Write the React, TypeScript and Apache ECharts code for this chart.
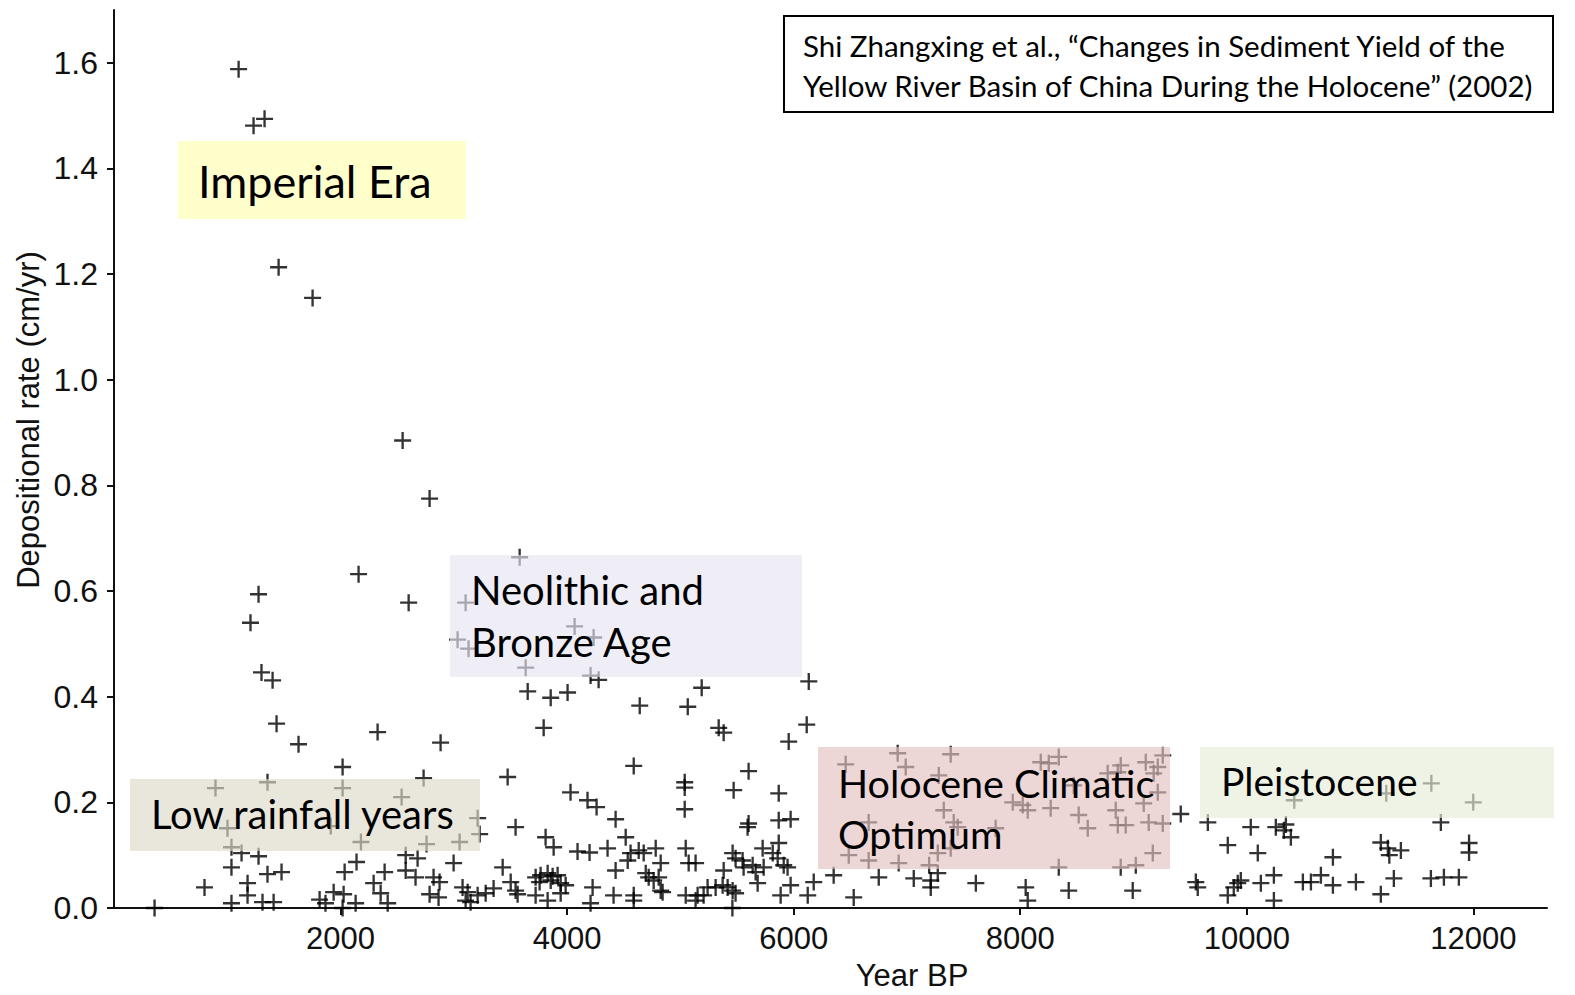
import React, { useEffect, useRef } from "react";
import * as echarts from "echarts";

// Tick labels
const xTicks = [2000, 4000, 6000, 8000, 10000, 12000];
const yTicks = [0, 0.2, 0.4, 0.6, 0.8, 1.0, 1.2, 1.4, 1.6];

// [Year BP, depositional rate cm/yr]
const imperialEraPoints = [
  [1100, 1.588], [1232, 1.481], [1329, 1.494], [1453, 1.213], [1753, 1.155],
  [2548, 0.885], [2786, 0.775], [2159, 0.632], [1276, 0.594], [2601, 0.578],
  [1205, 0.54], [1302, 0.446], [1400, 0.431], [1435, 0.349], [1629, 0.31],
  [2327, 0.333], [2883, 0.313],
];

const bronzeAgePoints = [
  [3033, 0.508], [3581, 0.664], [3104, 0.578], [4066, 0.533], [4234, 0.512],
  [3130, 0.491], [3634, 0.455], [4207, 0.44], [4278, 0.432], [3652, 0.41],
  [3855, 0.398], [4004, 0.408], [3793, 0.341], [4641, 0.383], [5065, 0.381],
  [5188, 0.417], [6133, 0.429], [6115, 0.347], [5956, 0.315], [5338, 0.341],
  [5382, 0.332],
];

const lowBandA = [
  [2018, 0.267], [896, 0.227], [1355, 0.238], [2018, 0.227], [2539, 0.21],
  [1002, 0.151], [1914, 0.155], [2180, 0.125], [1037, 0.115], [1126, 0.104],
  [1276, 0.098], [1037, 0.077], [1355, 0.064], [1479, 0.068], [799, 0.039],
  [1179, 0.047], [1179, 0.024], [1037, 0.009], [1311, 0.011], [1409, 0.011],
  [358, 0.0], [2036, 0.068], [2141, 0.087], [2389, 0.068], [2292, 0.047],
  [2575, 0.1], [2575, 0.071], [1815, 0.016], [1939, 0.03], [2027, 0.026],
  [2133, 0.009], [2354, 0.028], [2416, 0.009], [1867, 0.009], [2018, 0.0],
];

const lowBandB = [
  [2733, 0.246], [3475, 0.248], [4588, 0.269], [5038, 0.238], [5038, 0.228],
  [5038, 0.187], [4030, 0.219], [4180, 0.204], [4260, 0.191], [4428, 0.168],
  [4517, 0.134], [3210, 0.17], [3228, 0.14], [3545, 0.153], [2759, 0.121],
  [3051, 0.125], [3810, 0.134], [3881, 0.115], [4092, 0.107], [4198, 0.105],
  [4357, 0.113], [4560, 0.104], [4632, 0.109], [4676, 0.104], [4782, 0.113],
  [4535, 0.09], [4826, 0.085], [4428, 0.071], [5047, 0.113], [5073, 0.085],
  [5134, 0.085], [2680, 0.094], [2998, 0.085], [3431, 0.077], [2662, 0.058],
  [2821, 0.058], [2874, 0.049], [3077, 0.039], [3122, 0.03], [3210, 0.024],
  [2786, 0.026], [2865, 0.02], [3104, 0.014], [3148, 0.011], [3281, 0.028],
  [3351, 0.037], [3502, 0.049], [3545, 0.033], [3563, 0.026], [3722, 0.058],
  [3766, 0.062], [3828, 0.066], [3872, 0.06], [3916, 0.062], [3757, 0.049],
  [3855, 0.052], [3943, 0.047], [3987, 0.043], [3722, 0.024], [3828, 0.014],
  [3943, 0.028], [4225, 0.039], [4207, 0.009], [4410, 0.024], [4588, 0.024],
  [4588, 0.014], [4694, 0.066], [4720, 0.058], [4764, 0.052], [4808, 0.058],
  [4826, 0.033], [4843, 0.03], [5047, 0.024], [5152, 0.024], [5134, 0.014],
];

const lowBandC = [
  [5602, 0.259], [5470, 0.223], [5868, 0.217], [5602, 0.16],
  [5593, 0.153], [5868, 0.166], [5973, 0.168], [5868, 0.123], [5726, 0.113],
  [5815, 0.104], [5859, 0.094], [5461, 0.104], [5487, 0.094], [5549, 0.09],
  [5558, 0.077], [5638, 0.081], [5664, 0.068], [5735, 0.077], [5912, 0.081],
  [5946, 0.077], [5382, 0.071], [5311, 0.039], [5373, 0.043], [5417, 0.039],
  [5461, 0.033], [5487, 0.028], [5240, 0.039], [5205, 0.024], [5682, 0.047],
  [5973, 0.043], [5885, 0.024], [6124, 0.024], [6177, 0.049], [6353, 0.062],
  [6530, 0.02], [6751, 0.058], [7060, 0.056], [7210, 0.052], [7210, 0.039],
  [7272, 0.066], [7608, 0.047], [5459, 0.0],
  [6918, 0.293], [7386, 0.291], [6459, 0.272], [6989, 0.267], [7281, 0.251],
  [7325, 0.185], [6662, 0.162], [7413, 0.162], [7448, 0.153], [6486, 0.1],
  [6662, 0.09], [6927, 0.085], [7272, 0.104], [7386, 0.113], [7196, 0.081],
];

const lowBandD = [
  [8340, 0.286], [8252, 0.274], [8181, 0.276], [8887, 0.27], [8861, 0.257],
  [9108, 0.276], [9258, 0.289], [9214, 0.267], [8772, 0.255], [9178, 0.255],
  [8472, 0.232], [9214, 0.219], [9090, 0.198], [7934, 0.2], [8022, 0.195],
  [8066, 0.185], [8269, 0.189], [8516, 0.176], [8596, 0.151], [8843, 0.185],
  [8861, 0.157], [8931, 0.157], [9134, 0.162], [9258, 0.16], [9170, 0.104],
  [9020, 0.081], [8887, 0.077], [8340, 0.077], [7783, 0.151],
  [9417, 0.178], [9656, 0.162], [10035, 0.153], [10256, 0.153], [9832, 0.119],
  [10097, 0.104], [8048, 0.039], [8428, 0.033], [8993, 0.033], [9550, 0.049],
  [9567, 0.039], [9832, 0.024], [9885, 0.039], [9920, 0.047], [9947, 0.052],
  [10124, 0.047], [10239, 0.062], [10239, 0.014], [8066, 0.014],
];

const lowBandE = [
  [10345, 0.158], [10327, 0.147], [10389, 0.134],
  [10419, 0.204], [11231, 0.217], [11629, 0.236], [11999, 0.2],
  [11713, 0.162], [10760, 0.096], [11183, 0.124], [11245, 0.113], [11360, 0.109],
  [11258, 0.1], [11962, 0.123], [11962, 0.105], [10495, 0.049], [10566, 0.049],
  [10654, 0.062], [10760, 0.043], [10963, 0.049], [11298, 0.056], [11625, 0.056],
  [11740, 0.058], [11872, 0.058], [11183, 0.026],
];

const allPoints = [
  ...imperialEraPoints, ...bronzeAgePoints, ...lowBandA, ...lowBandB,
  ...lowBandC, ...lowBandD, ...lowBandE,
];

const CROSS = "path://M6.9,0H9.1V6.9H16V9.1H9.1V16H6.9V9.1H0V6.9H6.9Z";
const AXIS_FONT = "'Liberation Sans', Arial, sans-serif";
const NOTE_FONT = "Lato, 'Open Sans', sans-serif";

function noteBox(x: number, y: number, w: number, h: number, fill: string) {
  return { type: "rect", z: 100, silent: true, shape: { x, y, width: w, height: h }, style: { fill } };
}
function noteText(x: number, y: number, text: string, size: number) {
  return {
    type: "text", z: 101, silent: true, x, y,
    style: {
      text, fill: "#000", font: `${size}px ${NOTE_FONT}`,
      align: "left", verticalAlign: "middle",
    },
  };
}

export default function App() {
  const ref = useRef<HTMLDivElement>(null);
  useEffect(() => {
    const chart = echarts.init(ref.current!, null, { renderer: "svg" });
    chart.setOption({
      animation: false,
      backgroundColor: "#ffffff",
      grid: { left: 114, top: 10, width: 1433, height: 898, containLabel: false },
      xAxis: {
        type: "value", min: 0, max: 12650,
        axisLine: { show: true, onZero: false, lineStyle: { color: "#111", width: 2 } },
        axisTick: { show: true, length: 7, customValues: xTicks, lineStyle: { color: "#111", width: 2 } },
        axisLabel: {
          customValues: xTicks, margin: 15, color: "#111",
          fontFamily: AXIS_FONT, fontSize: 31,
          formatter: (v: number) => String(v),
        },
        splitLine: { show: false },
      },
      yAxis: {
        type: "value", min: 0, max: 1.7,
        axisLine: { show: true, onZero: false, lineStyle: { color: "#111", width: 2 } },
        axisTick: { show: true, length: 7, customValues: yTicks, lineStyle: { color: "#111", width: 2 } },
        axisLabel: {
          customValues: yTicks, margin: 16, color: "#111",
          fontFamily: AXIS_FONT, fontSize: 32,
          formatter: (v: number) => v.toFixed(1),
        },
        splitLine: { show: false },
      },
      series: [
        {
          type: "scatter",
          data: allPoints,
          symbol: CROSS,
          symbolSize: 17,
          clip: false,
          itemStyle: { color: "#000" },
        },
      ],
      graphic: [
        noteBox(178, 141, 288, 78, "rgba(255,255,177,0.65)"),
        noteBox(450, 555, 352, 122, "rgba(230,229,241,0.65)"),
        noteBox(130, 779, 350, 72, "rgba(221,218,201,0.65)"),
        noteBox(818, 747, 352, 122, "rgba(227,192,192,0.65)"),
        noteBox(1200, 747, 354, 71, "rgba(229,236,216,0.65)"),
        noteText(198, 181, "Imperial Era", 45),
        noteText(471, 590, "Neolithic and", 40),
        noteText(471, 642, "Bronze Age", 40),
        noteText(151, 814, "Low rainfall years", 40),
        noteText(838, 782, "Holocene Climatic", 39.5),
        noteText(838, 833, "Optimum", 39.5),
        noteText(1221, 781, "Pleistocene", 39),
        {
          type: "rect", z: 100, silent: true,
          shape: { x: 784, y: 16, width: 769, height: 96 },
          style: { fill: "#ffffff", stroke: "#000000", lineWidth: 2 },
        },
        noteText(803, 45, "Shi Zhangxing et al., \u201cChanges in Sediment Yield of the", 29.5),
        noteText(803, 85, "Yellow River Basin of China During the Holocene\u201d (2002)", 29.5),
        {
          type: "text", z: 101, silent: true, x: 28, y: 420, rotation: Math.PI / 2,
          style: {
            text: "Depositional rate (cm/yr)", fill: "#111",
            font: `31px ${AXIS_FONT}`, align: "center", verticalAlign: "middle",
          },
        },
        {
          type: "text", z: 101, silent: true, x: 912, y: 975,
          style: {
            text: "Year BP", fill: "#111",
            font: `31px ${AXIS_FONT}`, align: "center", verticalAlign: "middle",
          },
        },
      ],
    });
    return () => chart.dispose();
  }, []);
  return (
    <div
      ref={ref}
      style={{ position: "absolute", left: 0, top: 0, width: 1575, height: 995, background: "#fff" }}
    />
  );
}
